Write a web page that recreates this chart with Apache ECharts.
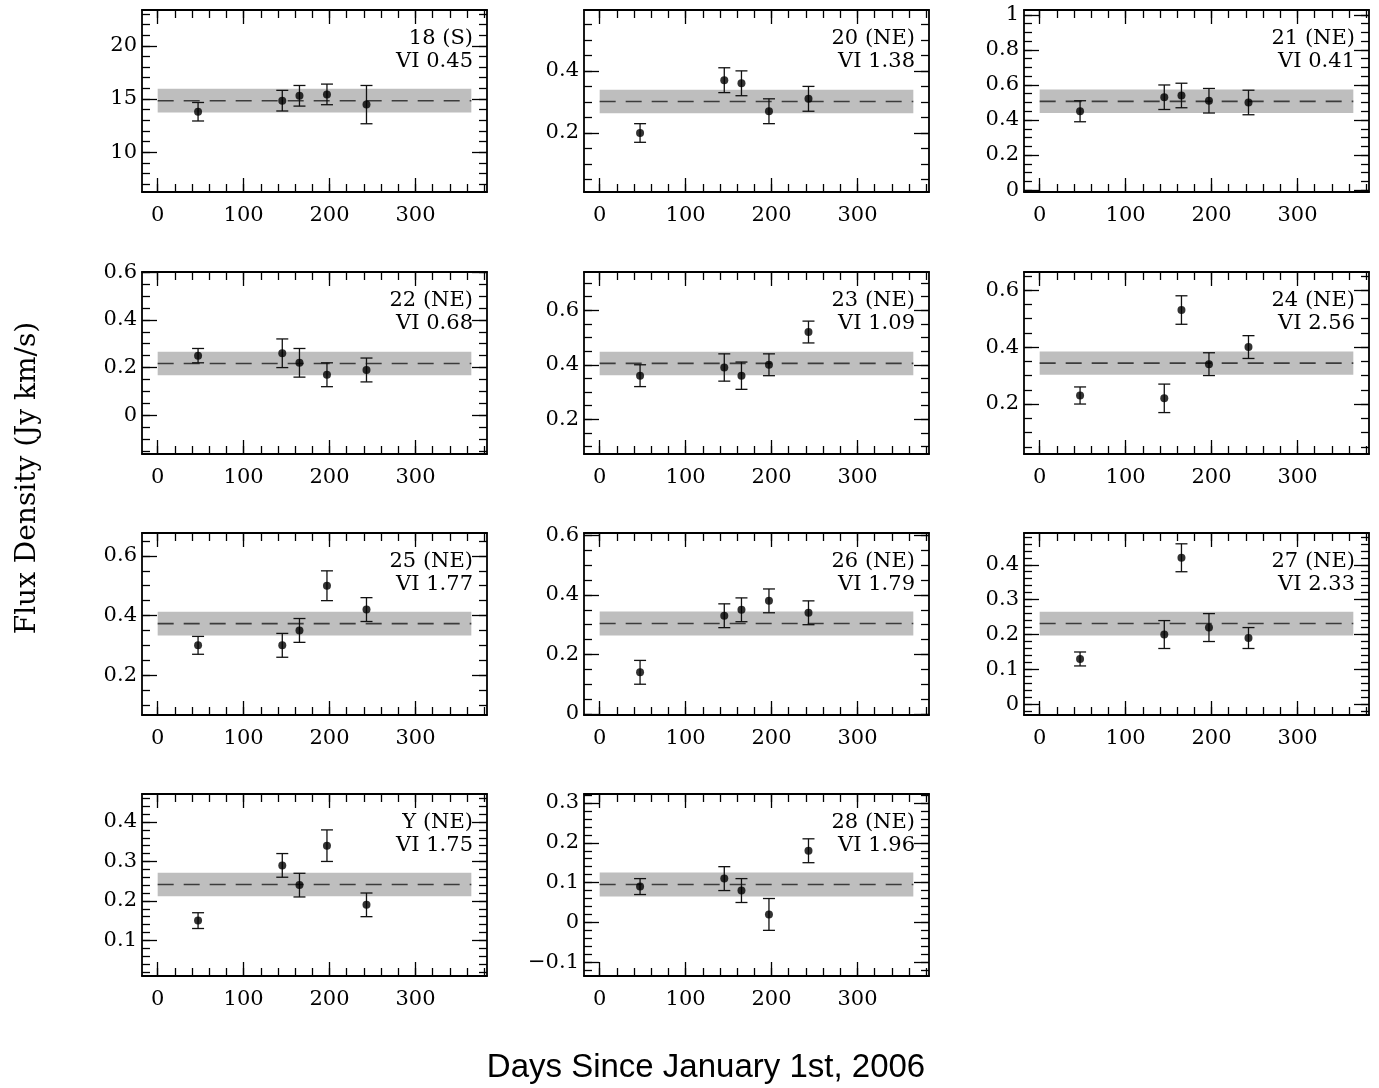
<!DOCTYPE html>
<html><head><meta charset="utf-8">
<script src="https://cdn.jsdelivr.net/npm/echarts@6/dist/echarts.min.js"></script>
<style>html,body{margin:0;padding:0;background:#fff}#c{width:1379px;height:1088px}</style>
</head><body><div id="c"></div>
<script>
// ---- data ----
const days = [47, 145, 165, 197, 243];
const bandSpan = [0, 365];
const panelNames = ['18 (S)', '20 (NE)', '21 (NE)', '22 (NE)', '23 (NE)', '24 (NE)', '25 (NE)', '26 (NE)', '27 (NE)', 'Y (NE)', '28 (NE)'];
const viValues = ['0.45', '1.38', '0.41', '0.68', '1.09', '2.56', '1.77', '1.79', '2.33', '1.75', '1.96'];

const flux18 = [13.8, 14.84, 15.3, 15.43, 14.47]; const err18 = [0.87, 0.97, 0.97, 0.97, 1.8];
const flux20 = [0.20, 0.37, 0.36, 0.27, 0.31];    const err20 = [0.03, 0.04, 0.04, 0.04, 0.04];
const flux21 = [0.45, 0.53, 0.54, 0.51, 0.50];    const err21 = [0.06, 0.07, 0.07, 0.07, 0.07];
const flux22 = [0.25, 0.26, 0.22, 0.17, 0.19];    const err22 = [0.03, 0.06, 0.06, 0.05, 0.05];
const flux23 = [0.36, 0.39, 0.36, 0.40, 0.52];    const err23 = [0.04, 0.05, 0.05, 0.04, 0.04];
const flux24 = [0.23, 0.22, 0.53, 0.34, 0.40];    const err24 = [0.03, 0.05, 0.05, 0.04, 0.04];
const flux25 = [0.30, 0.30, 0.35, 0.50, 0.42];    const err25 = [0.03, 0.04, 0.04, 0.05, 0.04];
const flux26 = [0.14, 0.33, 0.35, 0.38, 0.34];    const err26 = [0.04, 0.04, 0.04, 0.04, 0.04];
const flux27 = [0.13, 0.20, 0.42, 0.22, 0.19];    const err27 = [0.02, 0.04, 0.04, 0.04, 0.03];
const fluxY  = [0.15, 0.29, 0.24, 0.34, 0.19];    const errY  = [0.02, 0.03, 0.03, 0.04, 0.03];
const flux28 = [0.09, 0.11, 0.08, 0.02, 0.18];    const err28 = [0.02, 0.03, 0.03, 0.04, 0.03];
const allFlux = [flux18, flux20, flux21, flux22, flux23, flux24, flux25, flux26, flux27, fluxY, flux28];
const allErr  = [err18, err20, err21, err22, err23, err24, err25, err26, err27, errY, err28];

const means    = [14.84, 0.3015, 0.5065, 0.217, 0.405, 0.3435, 0.373, 0.3039, 0.2315, 0.2416, 0.0952];
const bandHalf = [1.12, 0.038, 0.067, 0.049, 0.043, 0.041, 0.040, 0.040, 0.034, 0.030, 0.030];

// axis ranges & ticks
const yMins = [6.25, 0.01, -0.011, -0.162, 0.073, 0.0246, 0.0662, -0.0034, -0.0306, 0.0096, -0.1347];
const yMaxs = [23.37, 0.596, 1.028, 0.6004, 0.74, 0.6635, 0.677, 0.608, 0.491, 0.471, 0.3226];
const yTickLabels = [[10,15,20],[0.2,0.4],[0,0.2,0.4,0.6,0.8,1],[0,0.2,0.4,0.6],[0.2,0.4,0.6],[0.2,0.4,0.6],[0.2,0.4,0.6],[0,0.2,0.4,0.6],[0,0.1,0.2,0.3,0.4],[0.1,0.2,0.3,0.4],[-0.1,0,0.1,0.2,0.3]];
const yMinorSteps = [1,0.05,0.05,0.05,0.05,0.05,0.05,0.05,0.02,0.02,0.02];
const xMin = -18.25, xMax = 383.25;
const xTickLabels = [0, 100, 200, 300];
const xMinorStep = 20;

// ---- layout ----
const gridLefts = [142, 584, 1024];
const gridTops = [10, 272, 533, 794];
const W = 345, H = 182;
const serif = '"DejaVu Serif", "Liberation Serif", serif';

function steps(a, b, step) {
  const out = [];
  for (let k = Math.ceil(a / step - 1e-9); k * step <= b + 1e-9; k++) out.push(Math.round(k * step * 1e6) / 1e6);
  return out;
}
function fmt(v) { return (v < 0 ? '\u2212' : '') + String(Math.abs(v)); }

const grids = [], xAxes = [], yAxes = [], series = [], graphics = [];
const axisLineOn = { show: true, onZero: false, lineStyle: { color: '#000', width: 1.8 } };
const axisLineOff = { show: false, onZero: false };
const tickStyle = { color: '#000', width: 1.3 };

panelNames.forEach((name, i) => {
  const row = Math.floor(i / 3), col = i % 3;
  const left = gridLefts[col], top = gridTops[row];
  grids.push({ left, top, width: W, height: H });
  const xi = xAxes.length, yi = yAxes.length;
  const xMinor = steps(0, xMax, xMinorStep);
  const yMinor = steps(yMins[i], yMaxs[i], yMinorSteps[i]);
  const bx = { type: 'value', gridIndex: i, min: xMin, max: xMax, splitLine: { show: false } };
  const by = { type: 'value', gridIndex: i, min: yMins[i], max: yMaxs[i], splitLine: { show: false } };
  const lab = { fontFamily: serif, fontSize: 21, color: '#000' };
  xAxes.push(Object.assign({}, bx, { position: 'bottom', axisLine: axisLineOn,
    axisTick: { show: true, inside: true, length: 14, customValues: xTickLabels, lineStyle: tickStyle },
    axisLabel: Object.assign({ show: true, customValues: xTickLabels, margin: 13 }, lab) }));
  xAxes.push(Object.assign({}, bx, { position: 'bottom', axisLine: axisLineOff,
    axisTick: { show: true, inside: true, length: 8, customValues: xMinor, lineStyle: tickStyle }, axisLabel: { show: false } }));
  xAxes.push(Object.assign({}, bx, { position: 'top', axisLine: axisLineOn,
    axisTick: { show: true, inside: true, length: 14, customValues: xTickLabels, lineStyle: tickStyle }, axisLabel: { show: false } }));
  xAxes.push(Object.assign({}, bx, { position: 'top', axisLine: axisLineOff,
    axisTick: { show: true, inside: true, length: 8, customValues: xMinor, lineStyle: tickStyle }, axisLabel: { show: false } }));

  yAxes.push(Object.assign({}, by, { position: 'left', axisLine: axisLineOn,
    axisTick: { show: true, inside: true, length: 15, customValues: yTickLabels[i], lineStyle: tickStyle },
    axisLabel: Object.assign({ show: true, customValues: yTickLabels[i], margin: 5, formatter: fmt }, lab) }));
  yAxes.push(Object.assign({}, by, { position: 'left', axisLine: axisLineOff,
    axisTick: { show: true, inside: true, length: 8, customValues: yMinor, lineStyle: tickStyle }, axisLabel: { show: false } }));
  yAxes.push(Object.assign({}, by, { position: 'right', axisLine: axisLineOn,
    axisTick: { show: true, inside: true, length: 15, customValues: yTickLabels[i], lineStyle: tickStyle }, axisLabel: { show: false } }));
  yAxes.push(Object.assign({}, by, { position: 'right', axisLine: axisLineOff,
    axisTick: { show: true, inside: true, length: 8, customValues: yMinor, lineStyle: tickStyle }, axisLabel: { show: false } }));

  const m = means[i], b = bandHalf[i];
  series.push({
    type: 'custom', xAxisIndex: xi, yAxisIndex: yi, z: 1, silent: true,
    data: [[bandSpan[0], bandSpan[1], m - b, m + b]], encode: { x: [0, 1], y: [2, 3] },
    renderItem: (params, api) => {
      const p1 = api.coord([api.value(0), api.value(3)]);
      const p2 = api.coord([api.value(1), api.value(2)]);
      return { type: 'rect', shape: { x: p1[0], y: p1[1], width: p2[0] - p1[0], height: p2[1] - p1[1] }, style: { fill: '#bebebe' } };
    }
  });
  series.push({
    type: 'line', xAxisIndex: xi, yAxisIndex: yi, z: 2, silent: true, symbol: 'none',
    data: [[bandSpan[0], m], [bandSpan[1], m]],
    lineStyle: { color: '#3c3c3c', width: 1.6, type: [16, 10] }
  });
  const fl = allFlux[i], er = allErr[i];
  series.push({
    type: 'custom', xAxisIndex: xi, yAxisIndex: yi, z: 3, silent: true,
    data: days.map((d, k) => [d, fl[k], er[k]]), encode: { x: 0, y: 1 },
    renderItem: (params, api) => {
      const x = api.value(0), y = api.value(1), e = api.value(2);
      const t = api.coord([x, y + e]), bt = api.coord([x, y - e]);
      const w = 6, st = { stroke: '#111', lineWidth: 1.3 };
      return { type: 'group', children: [
        { type: 'line', shape: { x1: t[0], y1: t[1], x2: bt[0], y2: bt[1] }, style: st },
        { type: 'line', shape: { x1: t[0] - w, y1: t[1], x2: t[0] + w, y2: t[1] }, style: st },
        { type: 'line', shape: { x1: bt[0] - w, y1: bt[1], x2: bt[0] + w, y2: bt[1] }, style: st }
      ] };
    }
  });
  series.push({
    type: 'scatter', xAxisIndex: xi, yAxisIndex: yi, z: 4, silent: true,
    data: days.map((d, k) => [d, fl[k]]), symbol: 'circle', symbolSize: 8,
    itemStyle: { color: '#000' }
  });

  const tf = '21px ' + serif;
  graphics.push({ type: 'text', x: left + W - 14, y: top + 29, silent: true,
    style: { text: name, font: tf, fill: '#000', align: 'right', verticalAlign: 'middle', textAlign: 'right', textVerticalAlign: 'middle' } });
  graphics.push({ type: 'text', x: left + W - 14, y: top + 52, silent: true,
    style: { text: 'VI ' + viValues[i], font: tf, fill: '#000', align: 'right', verticalAlign: 'middle', textAlign: 'right', textVerticalAlign: 'middle' } });
});

graphics.push({ type: 'text', x: 28, y: 478, rotation: Math.PI / 2, silent: true,
  style: { text: 'Flux Density (Jy km/s)', font: '28px ' + serif, fill: '#000', align: 'center', verticalAlign: 'middle', textAlign: 'center', textVerticalAlign: 'middle' } });
graphics.push({ type: 'text', x: 706, y: 1068, silent: true,
  style: { text: 'Days Since January 1st, 2006', font: '33px "Liberation Sans", Arial, sans-serif', fill: '#000', align: 'center', verticalAlign: 'middle', textAlign: 'center', textVerticalAlign: 'middle' } });

const chart = echarts.init(document.getElementById('c'), null, { renderer: 'canvas' });
chart.setOption({
  animation: false,
  backgroundColor: '#fff',
  grid: grids, xAxis: xAxes, yAxis: yAxes, series: series,
  graphic: { elements: graphics }
});
</script>
</body></html>
